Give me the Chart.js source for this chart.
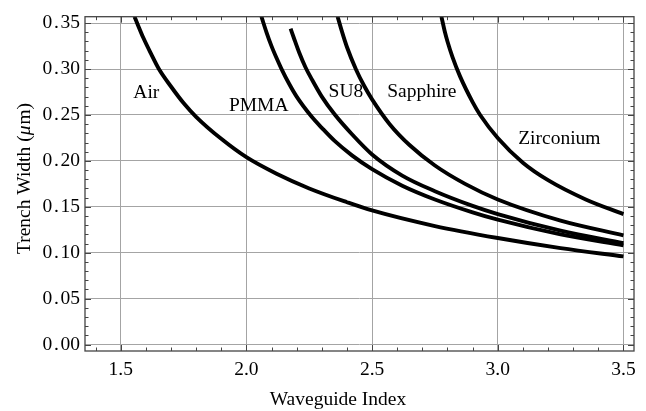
<!DOCTYPE html>
<html>
<head>
<meta charset="utf-8">
<script src="https://cdn.jsdelivr.net/npm/chart.js@4"></script>
<style>
  html, body { margin: 0; padding: 0; background: #fff; }
</style>
</head>
<body>
<canvas id="chart" width="646" height="411"></canvas>
<script>
// ===================== DATA =====================
const airX = [1.555, 1.57, 1.59, 1.62, 1.652, 1.70, 1.75, 1.80, 1.90, 2.00, 2.12, 2.25, 2.40, 2.50, 2.75, 3.00, 3.25, 3.50];
const airY = [0.357, 0.347, 0.334, 0.317, 0.300, 0.281, 0.263, 0.248, 0.224, 0.204, 0.186, 0.170, 0.155, 0.146, 0.129, 0.116, 0.105, 0.096];

const pmmaX = [2.06, 2.08, 2.10, 2.12, 2.14, 2.17, 2.20, 2.26, 2.30, 2.35, 2.42, 2.50, 2.62, 2.75, 2.90, 3.00, 3.25, 3.50];
const pmmaY = [0.357, 0.340, 0.325, 0.312, 0.300, 0.284, 0.270, 0.248, 0.236, 0.222, 0.206, 0.191, 0.173, 0.158, 0.144, 0.136, 0.120, 0.108];

const su8X = [2.176, 2.19, 2.21, 2.235, 2.26, 2.30, 2.35, 2.42, 2.50, 2.62, 2.75, 2.90, 3.00, 3.25, 3.50];
const su8Y = [0.344, 0.333, 0.318, 0.302, 0.289, 0.270, 0.251, 0.229, 0.207, 0.184, 0.167, 0.151, 0.142, 0.124, 0.1105];

const sapphireX = [2.363, 2.38, 2.40, 2.437, 2.47, 2.50, 2.57, 2.65, 2.75, 2.87, 3.00, 3.25, 3.50];
const sapphireY = [0.357, 0.341, 0.324, 0.299, 0.281, 0.267, 0.240, 0.217, 0.195, 0.175, 0.158, 0.135, 0.119];

const zircX = [2.776, 2.79, 2.80, 2.82, 2.85, 2.90, 2.93, 3.00, 3.10, 3.20, 3.35, 3.50];
const zircY = [0.357, 0.340, 0.330, 0.313, 0.292, 0.264, 0.250, 0.225, 0.198, 0.179, 0.158, 0.142];

const xTickVals = [1.5, 2.0, 2.5, 3.0, 3.5];
const yTickVals = [0, 0.05, 0.10, 0.15, 0.20, 0.25, 0.30, 0.35];

// curve labels, in data coordinates
const curveLabels = [
  { text: "Air", x: 1.602, y: 0.2745 },
  { text: "PMMA", x: 2.049, y: 0.2594 },
  { text: "SU8", x: 2.396, y: 0.275 },
  { text: "Sapphire", x: 2.698, y: 0.275 },
  { text: "Zirconium", x: 3.245, y: 0.224 }
];

const SERIF = "'Liberation Serif', 'Times New Roman', serif";
const FONT_PX = 19.5;

function pts(xs, ys) {
  return xs.map((x, i) => ({ x, y: ys[i] }));
}

function curve(label, xs, ys) {
  return {
    label,
    data: pts(xs, ys),
    borderColor: "#000",
    borderWidth: 3.9,
    pointRadius: 0,
    fill: false,
    cubicInterpolationMode: "monotone",
    clip: 0
  };
}

// ===================== FRAME + INWARD TICKS =====================
const frameTicks = {
  id: "frameTicks",
  afterDatasetsDraw(chart) {
    const { ctx, chartArea: a, scales: { x, y } } = chart;
    ctx.save();
    ctx.strokeStyle = "#444";
    ctx.lineWidth = 1;
    ctx.beginPath();
    for (let i = 14; i <= 35; i++) {
      const px = Math.round(x.getPixelForValue(i / 10)) + 0.5;
      const len = i % 5 === 0 ? 6 : 3.5;
      ctx.moveTo(px, a.bottom); ctx.lineTo(px, a.bottom - len);
      ctx.moveTo(px, a.top); ctx.lineTo(px, a.top + len);
    }
    for (let i = 0; i <= 35; i++) {
      const py = Math.round(y.getPixelForValue(i / 100)) + 0.5;
      const len = i % 5 === 0 ? 6 : 3.5;
      ctx.moveTo(a.left, py); ctx.lineTo(a.left + len, py);
      ctx.moveTo(a.right, py); ctx.lineTo(a.right - len, py);
    }
    ctx.stroke();
    ctx.lineWidth = 1.3;
    ctx.strokeRect(a.left, a.top, a.right - a.left, a.bottom - a.top);
    ctx.restore();
  }
};

// ===================== TEXT: CURVE LABELS + AXIS TITLES =====================
const textLayer = {
  id: "textLayer",
  afterDatasetsDraw(chart) {
    const { ctx, scales: { x, y } } = chart;
    const normal = FONT_PX + "px " + SERIF;
    const italic = "italic " + FONT_PX + "px " + SERIF;
    ctx.save();
    ctx.fillStyle = "#000";
    ctx.font = normal;
    ctx.textAlign = "center";
    ctx.textBaseline = "middle";
    curveLabels.forEach(l => {
      ctx.fillText(l.text, x.getPixelForValue(l.x), y.getPixelForValue(l.y));
    });

    // x title
    ctx.textBaseline = "alphabetic";
    ctx.fillText("Waveguide Index", 338, 405);

    // y title, with italic mu
    const parts = [["Trench Width (", normal], ["\u03bc", italic], ["m)", normal]];
    let total = 0;
    parts.forEach(p => { ctx.font = p[1]; total += ctx.measureText(p[0]).width + (p[0] === "\u03bc" ? 1 : 0); });
    ctx.translate(29.5, 178.5);
    ctx.rotate(-Math.PI / 2);
    ctx.textAlign = "left";
    let cx = -total / 2;
    parts.forEach(p => {
      ctx.font = p[1];
      ctx.fillText(p[0], cx, 0);
      cx += ctx.measureText(p[0]).width + (p[0] === "\u03bc" ? 1 : 0);
    });
    ctx.restore();
  }
};

// ===================== CHART =====================
new Chart(document.getElementById("chart").getContext("2d"), {
  type: "line",
  data: {
    datasets: [
      curve("Air", airX, airY),
      curve("PMMA", pmmaX, pmmaY),
      curve("SU8", su8X, su8Y),
      curve("Sapphire", sapphireX, sapphireY),
      curve("Zirconium", zircX, zircY)
    ]
  },
  options: {
    responsive: false,
    animation: false,
    layout: { padding: { top: 11, right: 12, left: 0, bottom: 0 } },
    plugins: {
      legend: { display: false },
      tooltip: { enabled: false }
    },
    scales: {
      x: {
        type: "linear",
        min: 1.358,
        max: 3.542,
        afterBuildTicks: s => { s.ticks = xTickVals.map(v => ({ value: v })); },
        afterFit: s => { s.height = 60; },
        border: { display: false },
        grid: { color: "#a4a4a4", lineWidth: 1, drawTicks: false },
        ticks: {
          padding: 7,
          color: "#000",
          font: { family: SERIF, size: FONT_PX },
          callback: v => v.toFixed(1)
        }
      },
      y: {
        type: "linear",
        min: -0.007,
        max: 0.357,
        afterBuildTicks: s => { s.ticks = yTickVals.map(v => ({ value: v })); },
        afterFit: s => { s.width = 85; },
        border: { display: false },
        grid: { color: "#a4a4a4", lineWidth: 1, drawTicks: false },
        ticks: {
          padding: 5,
          color: "#000",
          font: { family: SERIF, size: FONT_PX },
          // a hair space either side of the point, like the original's wider decimals
          callback: v => v.toFixed(2).replace(".", "\u200a.\u200a")
        }
      }
    }
  },
  plugins: [frameTicks, textLayer]
});
</script>
</body>
</html>
